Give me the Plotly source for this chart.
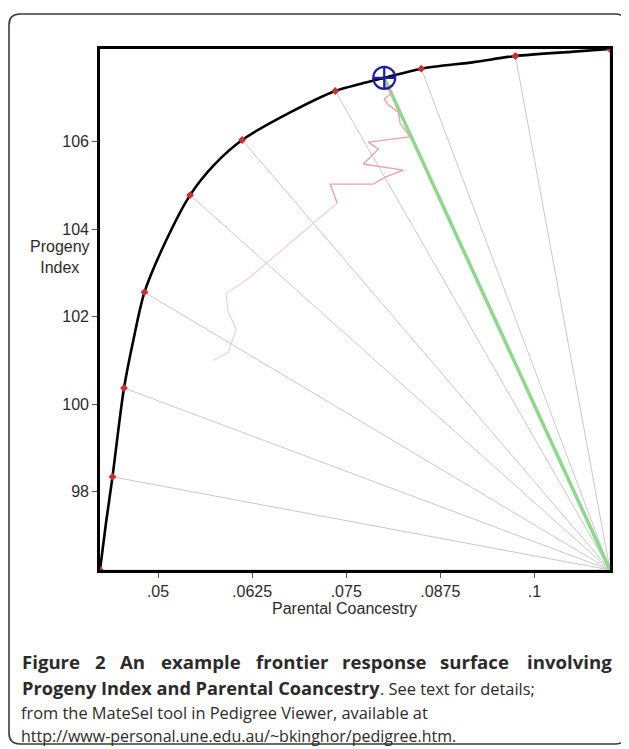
import plotly.graph_objects as go

# ---- data ----
# frontier curve (Parental Coancestry, Progeny Index)
curve_x = [0.04229, 0.04309, 0.04395, 0.04468, 0.04548, 0.04674, 0.04820, 0.05093,
           0.05426, 0.05745, 0.06117, 0.06755, 0.07354, 0.07686, 0.08005, 0.08497,
           0.09193, 0.09747, 0.10519, 0.11004]
curve_y = [96.21, 97.29, 98.34, 99.35, 100.37, 101.48, 102.56, 103.69,
           104.78, 105.47, 106.04, 106.67, 107.16, 107.32, 107.46, 107.67,
           107.82, 107.96, 108.06, 108.12]
# frontier solution points (red markers)
point_x = [0.04229, 0.04395, 0.04548, 0.04820, 0.05426, 0.06117, 0.07354, 0.08497, 0.09747, 0.11004]
point_y = [96.21, 98.34, 100.37, 102.56, 104.78, 106.04, 107.16, 107.67, 107.96, 108.12]
# chosen target (blue)
target_x = [0.08005]
target_y = [107.46]
# search path (pink)
path_x = [0.05731, 0.05931, 0.06037, 0.05931, 0.05904, 0.06184, 0.07380, 0.07287, 0.07859,
          0.08019, 0.08258, 0.07726, 0.07926, 0.07793, 0.08351, 0.08218, 0.08191, 0.08059,
          0.08005, 0.08112, 0.08032, 0.08005]
path_y = [101.00, 101.18, 101.71, 102.12, 102.53, 102.85, 104.60, 105.03, 105.03,
          105.19, 105.35, 105.49, 105.83, 105.99, 106.11, 106.41, 106.68, 106.84,
          106.98, 107.12, 107.25, 107.44]
x_ticks = [0.05, 0.0625, 0.075, 0.0875, 0.1]
x_tick_labels = [".05", ".0625", ".075", ".0875", ".1"]
y_ticks = [98, 100, 102, 104, 106]
y_tick_labels = ["98", "100", "102", "104", "106"]

# ---- figure (page body has an 8px margin, so the figure is 8px smaller) ----
OFF = 8
W, H = 629 - OFF, 749 - OFF
ML, MR, MT, MB = 100 - OFF, 19, 49 - OFF, 179
PW, PH = W - ML - MR, H - MT - MB

def px(xw):  # window pixel -> paper x
    return (xw - OFF - ML) / PW

def py(yw):  # window pixel -> paper y
    return (H - MB - (yw - OFF)) / PH

corner_x = max(curve_x)
corner_y = min(curve_y)

fig = go.Figure()

# grey rays from each frontier point to the corner
ray_x, ray_y = [], []
for x, y in zip(point_x, point_y):
    ray_x += [x, corner_x, None]
    ray_y += [y, corner_y, None]
fig.add_trace(go.Scatter(x=ray_x, y=ray_y, mode="lines",
                         line=dict(color="#c9c9c9", width=1), hoverinfo="skip"))

# green ray for the chosen target
fig.add_trace(go.Scatter(x=[target_x[0], corner_x], y=[target_y[0], corner_y], mode="lines",
                         line=dict(color="#8ed88e", width=3.5), hoverinfo="skip"))

# pink search path (lower faint part, upper stronger part)
fig.add_trace(go.Scatter(x=path_x[:7], y=path_y[:7], mode="lines",
                         line=dict(color="#f6cfd4", width=1.3), hoverinfo="skip"))
fig.add_trace(go.Scatter(x=path_x[6:], y=path_y[6:], mode="lines",
                         line=dict(color="#eba2a5", width=1.4), hoverinfo="skip"))

# frontier curve
fig.add_trace(go.Scatter(x=curve_x, y=curve_y, mode="lines",
                         line=dict(color="black", width=2.6, shape="spline", smoothing=0.8),
                         hoverinfo="skip"))

# red points
fig.add_trace(go.Scatter(x=point_x, y=point_y, mode="markers",
                         marker=dict(color="#c8302c", size=6, symbol="diamond"),
                         hoverinfo="skip"))

# blue target
fig.add_trace(go.Scatter(x=target_x, y=target_y, mode="markers",
                         marker=dict(color="#1c1ca8", size=22, symbol="circle-cross-open",
                                     line=dict(width=2.2, color="#1c1ca8")),
                         hoverinfo="skip"))

tick_font = dict(family="Liberation Sans, Arial, sans-serif", size=16, color="#2b2b2b")

fig.update_layout(
    width=W, height=H,
    margin=dict(l=ML, r=MR, t=MT, b=MB),
    paper_bgcolor="white", plot_bgcolor="white",
    showlegend=False,
    xaxis=dict(range=[min(curve_x), max(curve_x)], tickvals=x_ticks, ticktext=x_tick_labels,
               showgrid=False, zeroline=False, showline=True, linecolor="black", linewidth=2.6,
               mirror=True, ticks="outside", ticklen=5, tickcolor="#555", tickwidth=1,
               tickfont=tick_font),
    yaxis=dict(range=[min(curve_y), max(curve_y)], tickvals=y_ticks, ticktext=y_tick_labels,
               showgrid=False, zeroline=False, showline=True, linecolor="black", linewidth=2.6,
               mirror=True, ticks="outside", ticklen=5, tickcolor="#555", tickwidth=1,
               tickfont=tick_font),
)

# axis titles
fig.add_annotation(text="Parental Coancestry", xref="paper", yref="paper",
                   x=px(344), y=py(608), showarrow=False, xanchor="center", yanchor="middle",
                   font=tick_font)
fig.add_annotation(text="Progeny<br>Index", xref="paper", yref="paper",
                   x=px(60), y=py(257), showarrow=False, xanchor="center", yanchor="middle",
                   font=tick_font)

# caption
bold1_font = dict(family="Open Sans, sans-serif", size=18.6, color="#2b2b2b", weight="bold")
bold_font = dict(family="Open Sans, sans-serif", size=18.2, color="#2b2b2b", weight="bold")
cap_font = dict(family="Open Sans, sans-serif", size=16.4, color="#2b2b2b")

# justified first line: one word per annotation
line1_words = ["Figure", "2", "An", "example", "frontier", "response", "surface", "involving"]
line1_pos = [20, 92.5, 117.5, 158.6, 253.8, 340.0, 438.0, 525.0]
for w, xw in zip(line1_words, line1_pos):
    fig.add_annotation(text=f"<b>{w}</b>", xref="paper", yref="paper", x=px(xw), y=py(661),
                       showarrow=False, xanchor="left", yanchor="middle", font=bold1_font)

fig.add_annotation(text="<b>Progeny Index and Parental Coancestry</b>", xref="paper", yref="paper",
                   x=px(20), y=py(688), showarrow=False, xanchor="left", yanchor="middle",
                   font=bold_font)
fig.add_annotation(text=". See text for details;", xref="paper", yref="paper",
                   x=px(378), y=py(688), showarrow=False, xanchor="left", yanchor="middle",
                   font=cap_font)
fig.add_annotation(text="from the MateSel tool in Pedigree Viewer, available at", xref="paper",
                   yref="paper", x=px(19), y=py(712), showarrow=False, xanchor="left",
                   yanchor="middle", font=cap_font)
fig.add_annotation(text="http://www-personal.une.edu.au/~bkinghor/pedigree.htm.", xref="paper",
                   yref="paper", x=px(19), y=py(736), showarrow=False, xanchor="left",
                   yanchor="middle", font=dict(cap_font, size=16.0))

# rounded frame
x0, x1, y0, y1, r = 9, 626, 14, 744, 11
path = (f"M {px(x0 + r)},{py(y0)} L {px(x1 - r)},{py(y0)} Q {px(x1)},{py(y0)} {px(x1)},{py(y0 + r)} "
        f"L {px(x1)},{py(y1 - r)} Q {px(x1)},{py(y1)} {px(x1 - r)},{py(y1)} "
        f"L {px(x0 + r)},{py(y1)} Q {px(x0)},{py(y1)} {px(x0)},{py(y1 - r)} "
        f"L {px(x0)},{py(y0 + r)} Q {px(x0)},{py(y0)} {px(x0 + r)},{py(y0)} Z")
fig.add_shape(type="path", path=path, xref="paper", yref="paper",
              line=dict(color="#3a3a3a", width=1.6), layer="above")

fig.write_html("out.html")
